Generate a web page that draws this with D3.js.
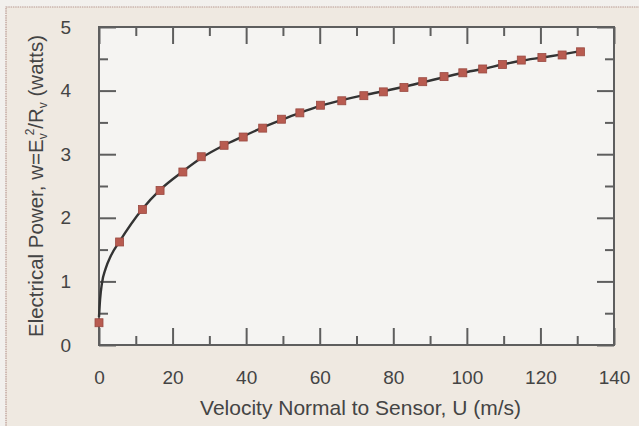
<!DOCTYPE html>
<html>
<head>
<meta charset="utf-8">
<script src="https://cdn.jsdelivr.net/npm/d3@7"></script>
<style>
  html, body { margin: 0; padding: 0; background: #f1efec; }
  svg { display: block; }
  text { font-family: "Liberation Sans", Arial, sans-serif; fill: #444; }
</style>
</head>
<body>
<svg id="chart" width="639" height="426"></svg>
<script>
// ---- data ----
const velocity = [0, 5.6, 11.8, 16.6, 22.8, 27.8, 34.0, 39.2, 44.5, 49.6, 54.6, 60.2, 66.0, 72.0, 77.3, 82.9, 88.0, 93.8, 98.9, 104.3, 109.7, 114.8, 120.4, 125.9, 130.9];
const power    = [0.35, 1.62, 2.13, 2.43, 2.72, 2.96, 3.14, 3.27, 3.41, 3.55, 3.65, 3.77, 3.84, 3.92, 3.98, 4.05, 4.14, 4.22, 4.28, 4.34, 4.41, 4.48, 4.52, 4.56, 4.61];
// fitted curve
const fitVelocity = [0, 0.3, 0.8, 1.8, 3.2, 5.6, 11.8, 16.6, 22.8, 27.8, 34.0, 39.2, 44.5, 49.6, 54.6, 60.2, 66.0, 72.0, 77.3, 82.9, 88.0, 93.8, 98.9, 104.3, 109.7, 114.8, 120.4, 125.9, 130.9];
const fitPower    = [0.44, 0.72, 0.97, 1.2, 1.4, 1.63, 2.14, 2.44, 2.73, 2.94, 3.14, 3.28, 3.42, 3.54, 3.65, 3.76, 3.85, 3.93, 3.99, 4.06, 4.13, 4.21, 4.28, 4.34, 4.41, 4.47, 4.52, 4.57, 4.62];
const xTicks = [0, 20, 40, 60, 80, 100, 120, 140];
const xMinorTicks = [10, 30, 50, 70, 90, 110, 130];
const yTicks = [0, 1, 2, 3, 4, 5];
const yMinorTicks = [0.5, 1.5, 2.5, 3.5, 4.5];
const xTitle = "Velocity Normal to Sensor, U (m/s)";

// ---- layout ----
const W = 639, H = 426;
const m = { left: 99, right: 25, top: 27, bottom: 81 };
const pw = W - m.left - m.right, ph = H - m.top - m.bottom;
const svg = d3.select("#chart");

// panel background
svg.append("rect").attr("x", 0).attr("y", 0).attr("width", W).attr("height", H).attr("fill", "#f2f0ed");
svg.append("rect").attr("x", 6).attr("y", 7).attr("width", W).attr("height", H)
  .attr("fill", "#efe9e1").attr("stroke", "#b89a92").attr("stroke-width", 1.2).attr("stroke-dasharray", "1.5,0.8");

const x = d3.scaleLinear().domain([0, 140]).range([m.left, m.left + pw]);
const y = d3.scaleLinear().domain([0, 5]).range([m.top + ph, m.top]);

// plot area
svg.append("rect").attr("x", m.left).attr("y", m.top).attr("width", pw).attr("height", ph).attr("fill", "#f5f4f2");

const axisColor = "#5e5e5e";
const majorLen = 17, minorLen = 9;

function styleAxis(g) {
  g.select(".domain").remove();
  g.selectAll(".tick line").attr("stroke", axisColor).attr("stroke-width", 2);
  g.selectAll(".tick text").attr("font-size", 19).attr("fill", "#444")
    .style("font-family", "'Liberation Sans', Arial, sans-serif");
}

// bottom axis (ticks inward)
svg.append("g").attr("transform", `translate(0,${m.top + ph})`)
  .call(d3.axisBottom(x).tickValues(xTicks).tickSize(-majorLen).tickPadding(majorLen + 9).tickFormat(d3.format("d")))
  .call(styleAxis);
svg.append("g").attr("transform", `translate(0,${m.top + ph})`)
  .call(d3.axisBottom(x).tickValues(xMinorTicks).tickSize(-minorLen).tickFormat(""))
  .call(styleAxis);
// top axis
svg.append("g").attr("transform", `translate(0,${m.top})`)
  .call(d3.axisTop(x).tickValues(xTicks).tickSize(-majorLen).tickFormat("")).call(styleAxis);
svg.append("g").attr("transform", `translate(0,${m.top})`)
  .call(d3.axisTop(x).tickValues(xMinorTicks).tickSize(-minorLen).tickFormat("")).call(styleAxis);
// left axis
svg.append("g").attr("transform", `translate(${m.left},0)`)
  .call(d3.axisLeft(y).tickValues(yTicks).tickSize(-majorLen).tickPadding(majorLen + 11).tickFormat(d3.format("d")))
  .call(styleAxis);
svg.append("g").attr("transform", `translate(${m.left},0)`)
  .call(d3.axisLeft(y).tickValues(yMinorTicks).tickSize(-minorLen).tickFormat("")).call(styleAxis);
// right axis
svg.append("g").attr("transform", `translate(${m.left + pw},0)`)
  .call(d3.axisRight(y).tickValues(yTicks).tickSize(-majorLen).tickFormat("")).call(styleAxis);
svg.append("g").attr("transform", `translate(${m.left + pw},0)`)
  .call(d3.axisRight(y).tickValues(yMinorTicks).tickSize(-minorLen).tickFormat("")).call(styleAxis);

// frame
svg.append("rect").attr("x", m.left).attr("y", m.top).attr("width", pw).attr("height", ph)
  .attr("fill", "none").attr("stroke", axisColor).attr("stroke-width", 2);

// fitted curve
const fit = fitVelocity.map((u, i) => [u, fitPower[i]]);
svg.append("path").datum(fit)
  .attr("fill", "none").attr("stroke", "#333").attr("stroke-width", 2.4)
  .attr("d", d3.line().x(d => x(d[0])).y(d => y(d[1])).curve(d3.curveMonotoneX));

// markers
const pts = velocity.map((u, i) => [u, power[i]]);
const s = 8;
svg.append("g").selectAll("rect").data(pts).join("rect")
  .attr("x", d => x(d[0]) - s / 2).attr("y", d => y(d[1]) - s / 2)
  .attr("width", s).attr("height", s)
  .attr("fill", "#b85b50").attr("stroke", "#9a4a42").attr("stroke-width", 0.8);

// axis titles
svg.append("text").attr("x", m.left + pw / 2 + 4).attr("y", 415)
  .attr("text-anchor", "middle").attr("font-size", 21).text(xTitle);

const yt = svg.append("text")
  .attr("transform", `translate(43,${m.top + ph / 2}) rotate(-90)`)
  .attr("text-anchor", "middle").attr("font-size", 20.5);
yt.append("tspan").text("Electrical Power, w=E");
yt.append("tspan").attr("font-size", 12).attr("dy", 4).text("v");
yt.append("tspan").attr("font-size", 12).attr("dy", -13).attr("dx", -2).text("2");
yt.append("tspan").attr("dy", 9).text("/R");
yt.append("tspan").attr("font-size", 12).attr("dy", 4).text("v");
yt.append("tspan").attr("dy", -4).text(" (watts)");
</script>
</body>
</html>
